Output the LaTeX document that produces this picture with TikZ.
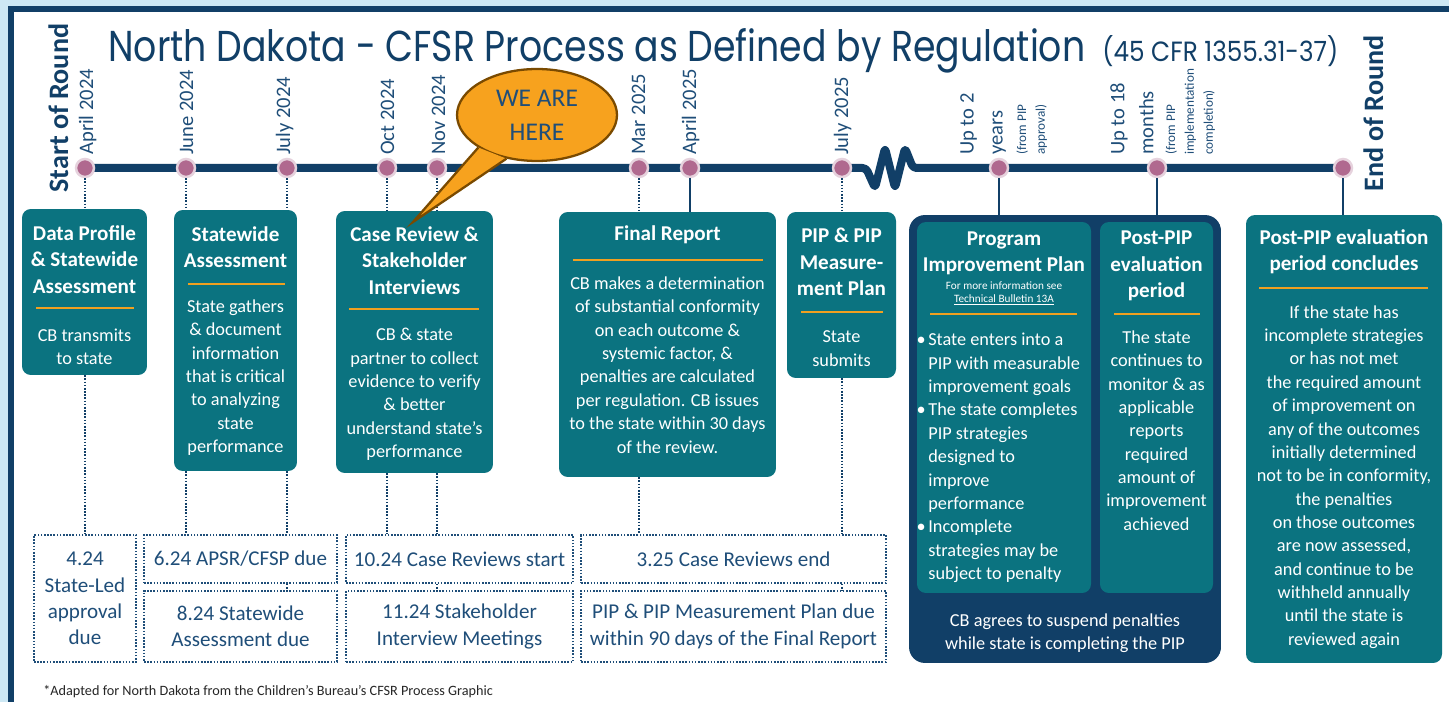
\documentclass[tikz,border=0pt]{standalone}
\usepackage{fontspec}
\setmainfont{Carlito}
\newfontfamily\titlefont{Poppins}
\usepackage{graphicx}
\usetikzlibrary{shapes.geometric}
\definecolor{cfnavy}{HTML}{113F67}
\definecolor{cfteal}{HTML}{0B7380}
\definecolor{cforange}{HTML}{F0A020}
\definecolor{cfpink}{HTML}{B0698F}
\definecolor{cfring}{HTML}{E6D2DD}
\definecolor{cftext}{HTML}{1F4E79}
\definecolor{cfbg}{HTML}{CDE8F4}
\definecolor{cfcall}{HTML}{F7A21E}
\definecolor{cfbrown}{HTML}{7A4A00}

\begin{document}
\begin{tikzpicture}[x=0.02cm,y=-0.02cm,
    tbox/.style={fill=cfteal,rounded corners=5pt,inner sep=0pt},
    hdr/.style={text=white,font=\fontsize{12}{15}\selectfont\bfseries,align=center,inner sep=0pt},
    txt/.style={text=white,font=\fontsize{10.4}{13.3}\selectfont,align=center,inner sep=0pt},
    orule/.style={draw=cforange,line width=1.7pt},
    dbox/.style={draw=cftext,dash pattern=on 0.9pt off 0.9pt,line width=0.9pt,text=cftext,font=\fontsize{12}{15}\selectfont,align=center,inner sep=0pt},
    mstone/.style={circle,fill=cfpink,draw=cfring,line width=1.4pt,minimum size=0.36cm,inner sep=0pt},
    lbl/.style={rotate=90,anchor=base west,text=cftext,font=\fontsize{11.7}{14}\selectfont,inner sep=0pt},
    span/.style={rotate=90,anchor=north west,align=left,text=cftext,font=\fontsize{11.7}{16.5}\selectfont,inner sep=0pt},
    spannote/.style={rotate=90,anchor=north west,align=left,text=cftext,font=\fontsize{7.5}{10.8}\selectfont,inner sep=0pt},
    link/.style={draw=cfnavy,dash pattern=on 0.9pt off 0.9pt,line width=0.9pt},
    slink/.style={draw=cfnavy,line width=1pt}]
\useasboundingbox (0,0) rectangle (1449,702);
\clip (0,0) rectangle (1449,702);
\fill[cfbg] (0,0) rectangle (1449,702);
\filldraw[fill=white,draw=cfnavy,line width=0.12cm] (11,9) rectangle (1480,730);

% title
\node[anchor=base west,inner sep=0pt,text=cfnavy] (title) at (108,62)
    {\resizebox{19.54cm}{0.66cm}{\titlefont North Dakota - CFSR Process as Defined by Regulation}};
\node[anchor=base west,inner sep=0pt,text=cfnavy] (cfr) at (1102,62)
    {\resizebox{4.72cm}{0.52cm}{\titlefont (45 CFR 1355.31-37)}};
\node[rotate=90,anchor=base west,inner sep=0pt,text=cfnavy,font=\fontsize{16}{16}\selectfont\bfseries] (start) at (68,193) {Start of Round};
\node[rotate=90,anchor=base west,inner sep=0pt,text=cfnavy,font=\fontsize{16}{16}\selectfont\bfseries] (end) at (1383,192) {End of Round};

% boxes
\node[tbox,minimum width=2.5cm,minimum height=3.32cm] (b1) at (84.5,292) {};
\node[hdr] (h1) at (84.5,259.5) {Data Profile\\ \& Statewide\\ Assessment};
\draw[orule] (36,308) -- (134,308);
\node[txt] (t1) at (84.5,346.5) {CB transmits\\ to state};

\node[tbox,minimum width=2.46cm,minimum height=5.22cm] (b2) at (235.5,340.5) {};
\node[hdr] (h2) at (235.5,247) {Statewide\\ Assessment};
\draw[orule] (188,284) -- (285,284);
\node[txt] (t2) at (235.5,377.5) {State gathers\\ \& document\\ information\\ that is critical\\ to analyzing\\ state\\ performance};

\node[tbox,minimum width=3.14cm,minimum height=5.24cm] (b3) at (414.5,342) {};
\node[hdr] (h3) at (414.5,260.5) {Case Review \&\\ Stakeholder\\ Interviews};
\draw[orule] (349,309) -- (479,309);
\node[txt] (t3) at (414.5,394.5) {CB \& state\\ partner to collect\\ evidence to verify\\ \& better\\ understand state’s\\ performance};

\node[tbox,minimum width=4.34cm,minimum height=5.3cm] (b4) at (667.5,344.5) {};
\node[hdr] (h4) at (667.5,235) {Final Report};
\draw[orule] (573,260) -- (763,260);
\node[txt] (t4) at (667.5,365) {CB makes a determination\\ of substantial conformity\\ on each outcome \&\\ systemic factor, \&\\ penalties are calculated\\ per regulation. CB issues\\ to the state within 30 days\\ of the review.};

\node[tbox,minimum width=2.18cm,minimum height=3.32cm] (b5) at (841.5,295) {};
\node[hdr] (h5) at (841.5,262) {PIP \& PIP\\ Measure-\\ ment Plan};
\draw[orule] (801,312) -- (883,312);
\node[txt] (t5) at (841.5,348.5) {State\\ submits};

\node[fill=cfnavy,rounded corners=9pt,minimum width=6.24cm,minimum height=8.96cm] (pip) at (1065,439) {};
\node[tbox,minimum width=3.48cm,minimum height=7.42cm] (b6) at (1004,407.5) {};
\node[hdr] (h6) at (1004,253) {Program\\ Improvement Plan};
\node[txt,font=\fontsize{6.4}{7.4}\selectfont] (s6) at (1004,293.5) {For more information see\\ \underline{Technical Bulletin 13A}};
\draw[orule] (930,314) -- (1077,314);
\node[txt,align=left,anchor=west] (t6) at (928,458) {\llap{•\hspace{1.5pt}}State enters into a\\ PIP with measurable\\ improvement goals\\ \llap{•\hspace{1.5pt}}The state completes\\ PIP strategies\\ designed to\\ improve\\ performance\\ \llap{•\hspace{1.5pt}}Incomplete\\ strategies may be\\ subject to penalty};
\node[tbox,minimum width=2.26cm,minimum height=7.42cm] (b7) at (1156.5,407.5) {};
\node[hdr] (h7) at (1156.5,266) {Post-PIP\\ evaluation\\ period};
\draw[orule] (1114,314) -- (1200,314);
\node[txt] (t7) at (1156.5,430.5) {The state\\ continues to\\ monitor \& as\\ applicable\\ reports\\ required\\ amount of\\ improvement\\ achieved};
\node[txt] (f6) at (1065,633) {CB agrees to suspend penalties\\ while state is completing the PIP};

\node[tbox,minimum width=3.92cm,minimum height=8.96cm] (b8) at (1344,439) {};
\node[hdr] (h8) at (1344,252) {Post-PIP evaluation\\ period concludes};
\draw[orule] (1259,288) -- (1428,288);
\node[txt] (t8) at (1344,477) {If the state has\\ incomplete strategies\\ or has not met\\ the required amount\\ of improvement on\\ any of the outcomes\\ initially determined\\ not to be in conformity,\\ the penalties\\ on those outcomes\\ are now assessed,\\ and continue to be\\ withheld annually\\ until the state is\\ reviewed again};

% due dates
\node[dbox,minimum width=2.04cm,minimum height=2.54cm] (n1) at (85,598.5) {4.24\\ State-Led\\ approval\\ due};
\node[dbox,minimum width=3.86cm,minimum height=0.96cm] (n2) at (240.5,559) {6.24 APSR/CFSP due};
\node[dbox,minimum width=3.86cm,minimum height=1.42cm] (n3) at (240.5,626.5) {8.24 Statewide\\ Assessment due};
\node[dbox,minimum width=4.54cm,minimum height=0.96cm] (n4) at (459.5,559) {10.24 Case Reviews start};
\node[dbox,minimum width=4.54cm,minimum height=1.42cm] (n5) at (459.5,626.5) {11.24 Stakeholder\\ Interview Meetings};
\node[dbox,minimum width=6.1cm,minimum height=0.96cm] (n6) at (733.5,559) {3.25 Case Reviews end};
\node[dbox,minimum width=6.1cm,minimum height=1.42cm] (n7) at (733.5,626.5) {PIP \& PIP Measurement Plan due\\ within 90 days of the Final Report};

% timeline
\draw[cfnavy,line width=0.16cm,line join=round,rounded corners=2pt] (85,168) -- (866,168) -- (875,188) -- (885,148) -- (895,188) -- (905,148) -- (913,168) -- (1343,168);
\node[mstone] (m1) at (85,168) {};
\node[mstone] (m2) at (186,168) {};
\node[mstone] (m3) at (287,168) {};
\node[mstone] (m4) at (387,168) {};
\node[mstone] (m5) at (437,168) {};
\node[mstone] (m6) at (639,168) {};
\node[mstone] (m7) at (690,168) {};
\node[mstone] (m8) at (842,168) {};
\node[mstone] (m9) at (999,168) {};
\node[mstone] (m10) at (1157,168) {};
\node[mstone] (m11) at (1343,168) {};

\node[lbl] (l1) at (93,155) {April 2024};
\node[lbl] (l2) at (193,155) {June 2024};
\node[lbl] (l3) at (290,155) {July 2024};
\node[lbl] (l4) at (394,155) {Oct 2024};
\node[lbl] (l5) at (445,155) {Nov 2024};
\node[lbl] (l6) at (645,155) {Mar 2025};
\node[lbl] (l7) at (696,155) {April 2025};
\node[lbl] (l8) at (848,155) {July 2025};
\node[span] (l9) at (960,155) {Up to 2\\ years};
\node[spannote] (l9n) at (1016,155) {(from PIP\\ approval)};
\node[span] (l10) at (1110,155) {Up to 18\\ months};
\node[spannote] (l10n) at (1165,155) {(from PIP\\ implementation\\ completion)};

% connectors
\draw[link] (m1.south) -- (m1 |- b1.north);
\draw[link] (m1 |- b1.south) -- (m1 |- n1.north);
\draw[link] (m2.south) -- (m2 |- b2.north);
\draw[link] (m2 |- b2.south) -- (m2 |- n2.north);
\draw[link] (m3.south) -- (m3 |- b2.north);
\draw[link] (m3 |- b2.south) -- (m3 |- n2.north);
\draw[link] (m3 |- n2.south) -- (m3 |- n3.north);
\draw[link] (m4.south) -- (m4 |- b3.north);
\draw[link] (m4 |- b3.south) -- (m4 |- n4.north);
\draw[link] (m5.south) -- (m5 |- b3.north);
\draw[link] (m5 |- b3.south) -- (m5 |- n4.north);
\draw[link] (m5 |- n4.south) -- (m5 |- n5.north);
\draw[link] (m6.south) -- (m6 |- b4.north);
\draw[link] (m6 |- b4.south) -- (m6 |- n6.north);
\draw[slink] (m7.south) -- (m7 |- b4.north);
\draw[link] (m8.south) -- (m8 |- b5.north);
\draw[link] (m8 |- b5.south) -- (m8 |- n6.north);
\draw[link] (m8 |- n6.south) -- (m8 |- n7.north);
\draw[slink] (m9.south) -- (m9 |- pip.north);
\draw[slink] (m10.south) -- (m10 |- pip.north);
\draw[slink] (m11.south) -- (m11 |- b8.north);

% callout
\node[ellipse,fill=cfcall,draw=cfbrown,line width=1.3pt,minimum width=3.2cm,minimum height=1.84cm,
    text=cftext,font=\fontsize{14.5}{19.4}\selectfont,align=center] (here) at (537,115) {WE ARE\\ HERE};
\coordinate (tip) at (413,222);
\fill[cfcall] (here.209) -- (tip) -- (here.235) -- cycle;
\draw[cfbrown,line width=1.3pt,line join=miter] (here.209) -- (tip) -- (here.235);

\node[anchor=west,inner sep=0pt,text=black!85,font=\fontsize{8.1}{9.5}\selectfont] (note) at (43,692)
    {*Adapted for North Dakota from the Children’s Bureau’s CFSR Process Graphic};
\end{tikzpicture}
\end{document}
